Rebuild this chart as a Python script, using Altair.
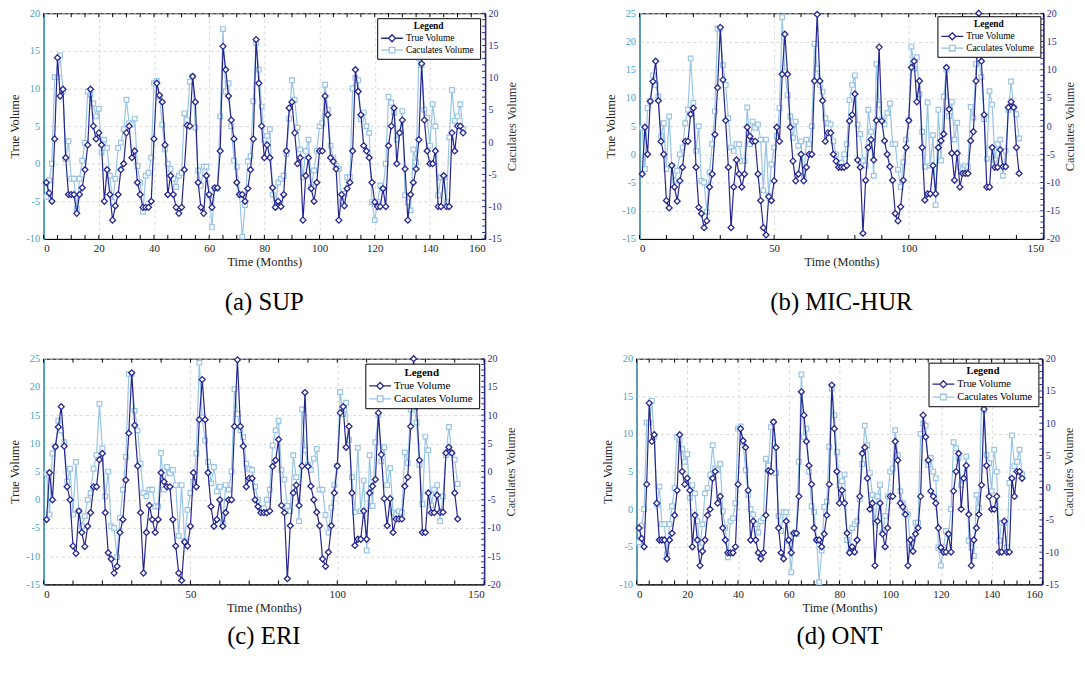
import altair as alt
import pandas as pd

# ---------------- data ----------------
# Dataset shown in panels (a) SUP and (d) ONT: months 1..152
sup_true = [
    -2.5, -3.9, -5.0, 3.3, 14.1, 9.0, 9.9, 0.8, -4.1, -4.1,
    -4.1, -6.6, -4.1, -3.2, -0.8, 2.5, 9.9, 5.0, 3.3, 4.1,
    2.5, -5.0, -0.8, -4.1, -7.5, -5.6, -4.1, -0.8, 0.0, 4.1,
    5.0, 0.8, 1.7, -2.5, -4.1, -5.8, -5.8, -5.8, -5.0, 3.3,
    10.7, 9.1, 8.2, 2.5, -4.1, -1.6, -4.1, -5.8, -6.6, -5.8,
    -0.8, 5.1, 5.0, 11.6, 8.2, -2.5, -5.8, -6.6, -1.6, -4.1,
    -5.8, -3.2, -3.2, 1.7, 15.6, 12.5, 9.0, 5.8, 3.3, -2.5,
    -4.1, -4.1, -5.0, -3.3, -0.8, 3.3, 16.5, 10.7, 5.0, 0.8,
    2.5, 0.8, -3.2, -5.8, -5.0, -5.7, -4.1, 1.7, 7.4, 8.2,
    4.1, 0.0, 0.8, -7.5, -1.6, 0.8, -3.3, -5.0, -2.5, 1.7,
    1.7, 9.0, 6.5, 0.8, 0.3, -0.7, -7.5, -4.1, -5.6, -3.3,
    -2.5, 1.7, 12.5, 9.6, 6.5, 2.4, 1.7, 0.8, -2.5, -5.1,
    -5.7, -5.7, -3.3, -5.7, 2.4, 5.0, 7.4, 0.0, 4.1, 5.8,
    -0.7, -7.5, -4.1, -2.5, -0.7, 3.2, 13.3, 5.8, 1.7, 0.0,
    0.0, 1.7, -5.7, -5.7, -1.6, -5.7, -5.7, 4.1, 1.7, 5.0, 5.0, 4.1,
]
sup_calc = [
    -4.4, -2.2, 0.0, 11.5, 11.5, 14.4, 9.6, 0.6, 3.0, -2.0,
    -2.0, -6.0, -2.0, 0.4, 2.8, 9.6, 9.2, 8.0, 6.3, 7.3,
    1.5, 3.2, 2.1, -1.6, -5.1, -2.0, 2.1, 2.8, 4.6, 8.5,
    5.4, 5.2, 6.0, -0.3, -2.5, -6.4, -1.6, -1.2, 0.8, 10.7,
    11.0, 8.9, 5.2, 1.9, 0.0, -0.7, -2.0, -3.1, -1.6, -1.2,
    6.7, 5.8, 10.9, 11.6, 4.8, -0.9, -2.9, -0.4, -0.4, -4.2,
    -8.4, -3.3, -3.3, 6.3, 17.9, 9.6, 10.7, 5.0, 0.4, -0.4,
    -4.1, -9.7, -5.5, 0.3, 1.0, 8.3, 16.0, 12.5, 7.6, 3.2,
    3.7, 4.6, -4.1, -5.7, -2.5, -2.0, -1.6, 1.3, 6.0, 11.1,
    8.5, 4.8, 1.9, -1.8, 1.7, 3.2, -3.1, -0.9, 1.7, 5.0,
    5.4, 10.5, 7.2, 2.4, 0.8, -0.3, -0.7, -5.0, -4.0, -1.8,
    -1.8, 10.0, 11.4, 11.1, 5.9, 6.8, 5.0, 4.1, -5.1, -7.5,
    -5.1, -2.9, -3.3, 0.0, 8.9, 8.1, 6.8, 3.2, 4.1, 7.0,
    -4.2, -5.1, -6.2, 1.9, 0.2, 14.0, 13.1, 7.2, 6.1, 2.4,
    7.9, 5.0, -4.2, -1.8, -1.8, -5.1, 3.5, 9.8, 5.7, 6.3, 7.9, 4.6,
]
# Dataset shown in panels (b) MIC-HUR and (c) ERI: months 1..141
mic_true = [
    -3.5, 4.8, 0.0, 9.4, 12.9, 16.5, 9.5, 2.3, 0.0, -8.2,
    -9.5, -2.0, -5.8, -8.3, -4.7, -2.3, 2.3, 2.3, 7.1, 8.2,
    -2.3, -9.4, -10.5, -13.0, -11.8, -5.8, -3.5, 3.5, 11.8, 22.5,
    13.2, 6.0, -2.3, -13.0, -5.8, -1.0, -3.5, -5.8, -3.5, 4.8,
    3.2, 2.3, 2.3, -3.5, -8.2, -13.0, -14.3, -7.5, -8.2, -4.7,
    4.8, 2.3, 14.2, 21.3, 14.2, 4.8, -1.2, -4.7, -3.5, 0.0,
    -4.7, -2.3, 0.0, 0.0, 13.0, 24.8, 13.0, 9.5, 2.3, 3.8,
    3.8, 0.0, -1.2, -2.3, -2.3, -2.3, -2.0, 5.9, 7.0, 10.7,
    -1.0, -2.3, -14.0, -4.6, 1.2, 2.6, -1.0, 6.0, 19.0, 5.9,
    2.4, 0.0, -2.2, -4.6, -10.5, -11.8, -9.3, -4.6, 1.2, 6.0,
    15.4, 16.5, 9.3, 13.0, 1.2, -8.1, -7.0, -7.0, -2.0, -7.0,
    1.2, 2.4, 3.6, 15.4, 8.0, 0.2, -4.6, 0.2, -5.8, -3.4,
    -3.4, -3.4, 2.4, 4.0, 13.0, 25.0, 16.5, 7.0, -5.8, -5.8,
    1.2, -2.3, -2.3, 0.8, -2.2, -2.2, 8.3, 9.3, 8.3, 1.2, -3.4,
]
mic_calc = [
    4.7, -2.6, 8.2, 9.4, 14.0, 12.3, 10.2, 3.2, 5.5, -2.6,
    6.7, -2.0, -4.7, -2.9, 0.0, 1.2, 5.5, 7.9, 17.0, 9.1,
    0.6, 5.0, -4.7, -5.0, -10.2, -3.2, 1.8, 7.6, 22.3, 22.3,
    15.8, 12.3, 6.4, 1.2, 0.6, 1.8, 1.8, -1.2, -1.2, 8.3,
    1.8, 5.8, 4.7, 5.3, 2.6, -6.4, 2.6, -7.3, -1.8, 1.2,
    3.2, 8.2, 24.3, 14.6, 10.5, 6.7, 2.9, 5.8, 1.5, 2.3,
    -4.1, 2.6, 1.8, 5.0, 19.6, 15.2, 12.3, 11.1, 6.4, 5.5,
    5.3, 2.3, 0.0, -1.5, -1.5, 0.0, 1.8, 9.6, 12.3, 14.0,
    5.3, 3.6, -1.1, -2.0, 7.9, 4.0, -3.8, 16.0, 8.8, 6.2,
    5.3, 7.3, 9.0, 1.8, 1.8, -2.7, -5.8, -1.4, 2.6, 6.0,
    19.1, 15.2, 17.2, 10.6, 4.0, -2.2, 9.2, -2.0, 3.4, -9.0,
    7.9, -1.1, 10.2, 15.0, 6.8, 9.3, 2.6, 5.6, -2.3, -2.6,
    -2.0, -2.3, 8.4, 6.5, 16.0, 17.0, 13.7, 6.2, -0.8, 11.2,
    8.8, -1.0, 1.8, 2.6, -3.8, 0.6, 7.9, 12.9, 8.3, 7.1, 2.8,
]

series_names = ["True Volume", "Caculates  Volume"]
captions = ["(a)  SUP", "(b)  MIC-HUR", "(c)  ERI", "(d)  ONT"]

# ---------------- style ----------------
DARK = "#25258f"
LIGHT = "#98c4e6"
TEAL = "#4a9fc0"
NAVY = "#2b2b8c"
GRID = "#cfcfcf"
FONT = "Liberation Serif"

DIAMOND_LEG = "M-1,0H-0.32M0.32,0H1M0,-0.32L0.32,0L0,0.32L-0.32,0Z"
SQUARE_LEG = "M-1,0H-0.26M0.26,0H1M-0.26,-0.26H0.26V0.26H-0.26Z"


def panel(true_v, calc_v, xmax, xlab_step, xminor_step, ldom, rdom, W, H,
          caption, cap_offset, leg_fs, leg_off):
    df_t = pd.DataFrame({"month": list(range(1, len(true_v) + 1)), "value": true_v})
    df_c = pd.DataFrame({"month": list(range(1, len(calc_v) + 1)), "value": calc_v})
    xs = alt.Scale(domain=[0, xmax], nice=False, zero=False)
    ys = alt.Scale(domain=ldom, nice=False, zero=False)
    rs = alt.Scale(domain=rdom, nice=False, zero=False)

    x_axis = alt.Axis(values=list(range(0, xmax + 1, xlab_step)), tickSize=0,
                      domainColor="black", domainWidth=1, grid=True, gridColor=GRID,
                      gridDash=[3, 3], gridWidth=0.8, labelFont=FONT, labelFontSize=11,
                      labelColor="#222", labelPadding=4, labelExpr="'' + datum.value",
                      title="Time (Months)", titleFont=FONT, titleFontSize=12.5,
                      titleFontWeight="normal", titleColor="#222", titlePadding=2)
    y_axis = alt.Axis(orient="left", values=list(range(ldom[0], ldom[1] + 1, 5)),
                      tickSize=0, domainColor=TEAL, domainWidth=1.5, grid=True,
                      gridColor=GRID, gridDash=[3, 3], gridWidth=0.8, labelFont=FONT,
                      labelFontSize=10.5, labelColor=TEAL, labelPadding=4,
                      labelExpr="'' + datum.value",
                      title="True Volume", titleFont=FONT, titleFontSize=12.5,
                      titleFontWeight="normal", titleColor="#222", titlePadding=4)
    r_axis = alt.Axis(orient="right", values=list(range(rdom[0], rdom[1] + 1, 5)),
                      tickSize=0, domainColor=NAVY, domainWidth=1.5, grid=False,
                      labelFont=FONT, labelFontSize=10, labelColor=NAVY, labelPadding=3,
                      labelExpr="'' + datum.value", title="Caculates Volume",
                      titleFont=FONT, titleFontSize=12.5, titleFontWeight="normal",
                      titleColor="#333", titlePadding=4, titleAngle=270,
                      titleBaseline="top")

    X = alt.X("month:Q", scale=xs, axis=x_axis)
    Y = alt.Y("value:Q", scale=ys, axis=y_axis)

    calc_line = alt.Chart(df_c).mark_line(color=LIGHT, strokeWidth=1.2).encode(x=X, y=Y)
    calc_pts = alt.Chart(df_c).mark_point(shape="square", filled=True, fill="white",
                                         stroke=LIGHT, strokeWidth=1.2, size=22,
                                         opacity=1).encode(x=X, y=Y)
    true_line = alt.Chart(df_t).mark_line(color=DARK, strokeWidth=1.2).encode(x=X, y=Y)
    true_pts = alt.Chart(df_t).mark_point(shape="diamond", filled=True, fill="white",
                                         stroke=DARK, strokeWidth=1.3, size=36,
                                         opacity=1).encode(x=X, y=Y)

    xt = pd.DataFrame({"month": list(range(0, xmax + 1, xminor_step))})
    bottom_ticks = alt.Chart(xt).mark_rule(color="black", strokeWidth=1).encode(
        x=X, y=alt.value(H), y2=alt.value(H - 4))
    top_ticks = alt.Chart(xt).mark_rule(color="black", strokeWidth=1).encode(
        x=X, y=alt.value(0), y2=alt.value(4))

    leg_df = pd.DataFrame({"series": series_names})
    leg = alt.Legend(title="Legend", orient="top-right", offset=leg_off,
                     fillColor="white", strokeColor="black", padding=3,
                     titleFont=FONT, titleFontSize=leg_fs, titleFontWeight="bold",
                     titleColor="black", titleAnchor="middle", titlePadding=2,
                     labelFont=FONT, labelFontSize=leg_fs, labelColor="black",
                     labelOffset=2, symbolSize=484, symbolStrokeWidth=1.3,
                     symbolOpacity=1, clipHeight=leg_fs + 2, rowPadding=0)
    legend_layer = alt.Chart(leg_df).mark_point(filled=False, opacity=0).encode(
        color=alt.Color("series:N", scale=alt.Scale(domain=series_names,
                                                    range=[DARK, LIGHT]), legend=leg),
        shape=alt.Shape("series:N", scale=alt.Scale(domain=series_names,
                                                    range=[DIAMOND_LEG, SQUARE_LEG]),
                        legend=leg))

    rt = pd.DataFrame({"t": list(range(rdom[0], rdom[1] + 1))})
    right_layer = alt.Chart(rt).mark_rule(color=NAVY, strokeWidth=1).encode(
        y=alt.Y("t:Q", scale=rs, axis=r_axis),
        x=alt.value(W - 3), x2=alt.value(W))

    inner = alt.layer(calc_line, calc_pts, true_line, true_pts, top_ticks,
                      bottom_ticks, legend_layer)
    return alt.layer(inner, right_layer).resolve_scale(y="independent").properties(
        width=W, height=H,
        title=alt.TitleParams(caption, orient="bottom", font=FONT, fontSize=25,
                              fontWeight="normal", color="black", offset=cap_offset,
                              anchor="middle"))


pa = panel(sup_true, sup_calc, 160, 20, 5, [-10, 20], [-15, 20], 446, 228,
           captions[0], 22, 9.5, 5)
pb = panel(mic_true, mic_calc, 150, 50, 10, [-15, 25], [-20, 20], 408, 228,
           captions[1], 22, 9.5, 3)
pc = panel(mic_true, mic_calc, 150, 50, 10, [-15, 25], [-20, 20], 445, 228,
           captions[2], 11, 11, 5)
pd_ = panel(sup_true, sup_calc, 160, 20, 5, [-10, 20], [-15, 20], 410, 228,
            captions[3], 11, 10.5, 4)

row1 = alt.hconcat(pa, pb, spacing=86).resolve_scale(
    color="independent", shape="independent").resolve_legend(
    color="independent", shape="independent")
row2 = alt.hconcat(pc, pd_, spacing=84).resolve_scale(
    color="independent", shape="independent").resolve_legend(
    color="independent", shape="independent")

chart = alt.vconcat(row1, row2, spacing=37).resolve_scale(
    color="independent", shape="independent").resolve_legend(
    color="independent", shape="independent").properties(
    padding={"left": 0, "top": -5, "right": 0, "bottom": 0},
    background="white").configure_view(stroke="black", strokeWidth=1).configure_axis(
    labelFont=FONT, titleFont=FONT).configure_legend(labelFont=FONT, titleFont=FONT)

chart.save("out.html", embed_options={"renderer": "svg", "actions": False})
